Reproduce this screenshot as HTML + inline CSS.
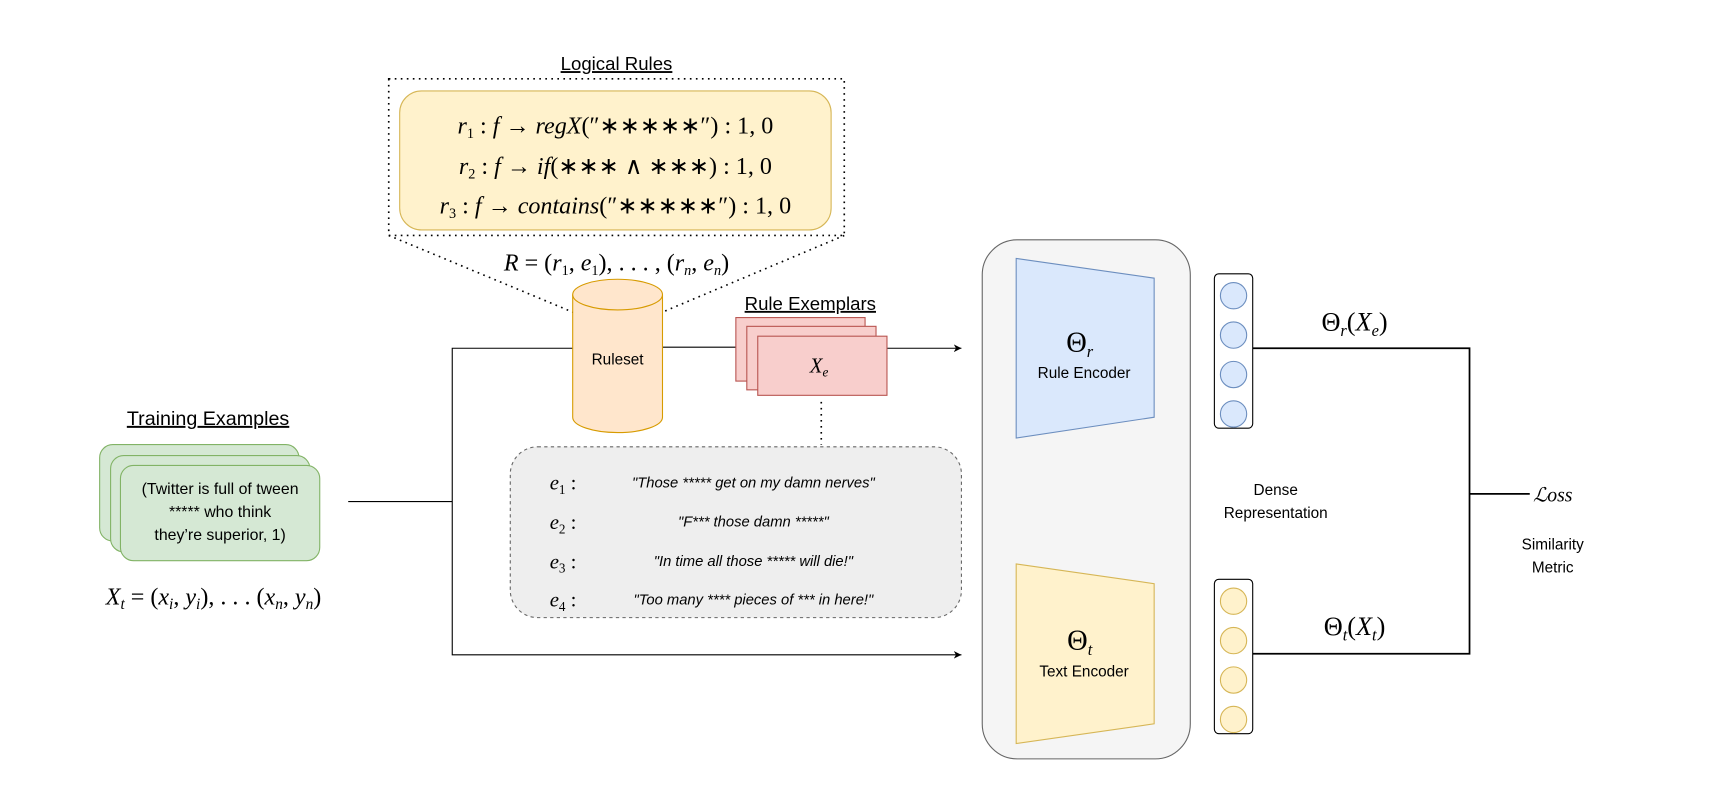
<!DOCTYPE html>
<html><head><meta charset="utf-8"><style>html,body{margin:0;padding:0;background:#fff}svg{display:block}
.s{font-family:"Liberation Sans",sans-serif}.m{font-family:"Liberation Serif",serif}</style></head>
<body>
<svg width="1717" height="812" viewBox="0 0 1568 741.5" xmlns="http://www.w3.org/2000/svg">
<defs><marker id="a" markerWidth="8" markerHeight="8" refX="7" refY="4" orient="auto"><path d="M0,0.5 L7,4 L0,7.5 L2,4z" fill="#000"/></marker></defs>
<text x="563" y="64" class="s" font-size="17" text-anchor="middle" text-decoration="underline">Logical Rules</text>
<rect x="355" y="72" width="416" height="143" fill="none" stroke="#000" stroke-width="1.5" stroke-dasharray="1.5,4"/>
<rect x="365" y="83" width="394" height="127" rx="20" fill="#fff2cc" stroke="#d6b656"/>
<g class="m" font-size="22" text-anchor="middle" font-style="italic">
<text x="562" y="122">r<tspan font-size="13" font-style="normal" dy="4">1</tspan><tspan dy="-4" font-style="normal"> : </tspan>f<tspan font-style="normal"> → </tspan>regX<tspan font-style="normal">(″∗∗∗∗∗″) : 1, 0</tspan></text>
<text x="562" y="159">r<tspan font-size="13" font-style="normal" dy="4">2</tspan><tspan dy="-4" font-style="normal"> : </tspan>f<tspan font-style="normal"> → </tspan>if<tspan font-style="normal">(∗∗∗ ∧ ∗∗∗) : 1, 0</tspan></text>
<text x="562" y="195">r<tspan font-size="13" font-style="normal" dy="4">3</tspan><tspan dy="-4" font-style="normal"> : </tspan>f<tspan font-style="normal"> → </tspan>contains<tspan font-style="normal">(″∗∗∗∗∗″) : 1, 0</tspan></text>
<text x="563" y="247">R<tspan font-style="normal"> = (</tspan>r<tspan font-size="13" font-style="normal" dy="4">1</tspan><tspan dy="-4" font-style="normal">, </tspan>e<tspan font-size="13" font-style="normal" dy="4">1</tspan><tspan dy="-4" font-style="normal">), . . . , (</tspan>r<tspan font-size="13" dy="4">n</tspan><tspan dy="-4" font-style="normal">, </tspan>e<tspan font-size="13" dy="4">n</tspan><tspan dy="-4" font-style="normal">)</tspan></text>
</g>
<line x1="355" y1="215" x2="523" y2="285" stroke="#000" stroke-width="1.5" stroke-dasharray="1.5,4"/>
<line x1="771" y1="215" x2="605" y2="285" stroke="#000" stroke-width="1.5" stroke-dasharray="1.5,4"/>
<g stroke="#000" fill="none" stroke-width="1">
<polyline points="318,458 413,458"/>
<polyline points="523,318 413,318 413,598 878,598" marker-end="url(#a)"/>
<line x1="605" y1="317" x2="672" y2="317"/>
<line x1="810" y1="318" x2="878" y2="318" marker-end="url(#a)"/>
<line x1="750" y1="367" x2="750" y2="406" stroke-width="1.5" stroke-dasharray="1.5,4"/>
</g>
<path d="M523,269 L523,381 A41,14 0 0 0 605,381 L605,269" fill="#ffe6cc" stroke="#d79b00"/>
<ellipse cx="564" cy="269" rx="41" ry="14" fill="#ffe6cc" stroke="#d79b00"/>
<text x="564" y="333" class="s" font-size="14" text-anchor="middle">Ruleset</text>
<text x="740" y="283" class="s" font-size="17" text-anchor="middle" text-decoration="underline">Rule Exemplars</text>
<rect x="672" y="290" width="118" height="58" fill="#f8cecc" stroke="#b85450"/>
<rect x="682" y="298" width="118" height="58" fill="#f8cecc" stroke="#b85450"/>
<rect x="692" y="307" width="118" height="54" fill="#f8cecc" stroke="#b85450"/>
<text x="748" y="340" class="m" font-size="19" font-style="italic" text-anchor="middle">X<tspan font-size="12" dy="4">e</tspan></text>
<rect x="466" y="408" width="412" height="156" rx="25" fill="#eeeeee" stroke="#666" stroke-dasharray="3,3"/>
<g class="m" font-size="19" font-style="italic">
<text x="502" y="447">e<tspan font-size="12" font-style="normal" dy="4">1</tspan><tspan dy="-4" font-style="normal"> :</tspan></text>
<text x="502" y="483">e<tspan font-size="12" font-style="normal" dy="4">2</tspan><tspan dy="-4" font-style="normal"> :</tspan></text>
<text x="502" y="519">e<tspan font-size="12" font-style="normal" dy="4">3</tspan><tspan dy="-4" font-style="normal"> :</tspan></text>
<text x="502" y="554">e<tspan font-size="12" font-style="normal" dy="4">4</tspan><tspan dy="-4" font-style="normal"> :</tspan></text>
</g>
<g class="s" font-size="13.5" font-style="italic" text-anchor="middle">
<text x="688" y="445">"Those ***** get on my damn nerves"</text>
<text x="688" y="481">"F*** those damn *****"</text>
<text x="688" y="517">"In time all those ***** will die!"</text>
<text x="688" y="552">"Too many **** pieces of *** in here!"</text>
</g>
<text x="190" y="388" class="s" font-size="18" text-anchor="middle" text-decoration="underline">Training Examples</text>
<rect x="91" y="406" width="182" height="88" rx="12" fill="#d5e8d4" stroke="#82b366"/>
<rect x="101" y="416" width="182" height="88" rx="12" fill="#d5e8d4" stroke="#82b366"/>
<rect x="110" y="425" width="182" height="87" rx="12" fill="#d5e8d4" stroke="#82b366"/>
<g class="s" font-size="14.5" text-anchor="middle">
<text x="201" y="451">(Twitter is full of tween</text>
<text x="201" y="472">***** who think</text>
<text x="201" y="493">they’re superior, 1)</text>
</g>
<text x="195" y="552" class="m" font-size="22" font-style="italic" text-anchor="middle">X<tspan font-size="14" dy="4">t</tspan><tspan dy="-4" font-style="normal"> = (</tspan>x<tspan font-size="14" dy="4">i</tspan><tspan dy="-4" font-style="normal">, </tspan>y<tspan font-size="14" dy="4">i</tspan><tspan dy="-4" font-style="normal">), . . . (</tspan>x<tspan font-size="14" dy="4">n</tspan><tspan dy="-4" font-style="normal">, </tspan>y<tspan font-size="14" dy="4">n</tspan><tspan dy="-4" font-style="normal">)</tspan></text>
<rect x="897" y="219" width="190" height="474" rx="32" fill="#f5f5f5" stroke="#666"/>
<polygon points="928,236 1054,254 1054,381 928,400" fill="#dae8fc" stroke="#6c8ebf"/>
<polygon points="928,515 1054,533 1054,661 928,679" fill="#fff2cc" stroke="#d6b656"/>
<text x="986" y="321" class="m" font-size="26" text-anchor="middle">Θ<tspan font-size="15" font-style="italic" dy="5">r</tspan></text>
<text x="990" y="345" class="s" font-size="14" text-anchor="middle">Rule Encoder</text>
<text x="986" y="593" class="m" font-size="26" text-anchor="middle">Θ<tspan font-size="15" font-style="italic" dy="5">t</tspan></text>
<text x="990" y="618" class="s" font-size="14" text-anchor="middle">Text Encoder</text>
<rect x="1109" y="250" width="35" height="141" rx="4" fill="#fff" stroke="#000"/>
<g fill="#dae8fc" stroke="#6c8ebf"><circle cx="1126.5" cy="270" r="12"/><circle cx="1126.5" cy="306" r="12"/><circle cx="1126.5" cy="342" r="12"/><circle cx="1126.5" cy="378" r="12"/></g>
<rect x="1109" y="529" width="35" height="141" rx="4" fill="#fff" stroke="#000"/>
<g fill="#fff2cc" stroke="#d6b656"><circle cx="1126.5" cy="549" r="12"/><circle cx="1126.5" cy="585" r="12"/><circle cx="1126.5" cy="621" r="12"/><circle cx="1126.5" cy="657" r="12"/></g>
<g stroke="#000" stroke-width="1.6" fill="none">
<polyline points="1144,318 1342,318 1342,597 1144,597"/>
<line x1="1342" y1="451" x2="1397" y2="451"/>
</g>
<text x="1237" y="302" class="m" font-size="24" text-anchor="middle">Θ<tspan font-size="15" font-style="italic" dy="5">r</tspan><tspan dy="-5">(</tspan><tspan font-style="italic">X</tspan><tspan font-size="15" font-style="italic" dy="5">e</tspan><tspan dy="-5">)</tspan></text>
<text x="1237" y="580" class="m" font-size="24" text-anchor="middle">Θ<tspan font-size="15" font-style="italic" dy="5">t</tspan><tspan dy="-5">(</tspan><tspan font-style="italic">X</tspan><tspan font-size="15" font-style="italic" dy="5">t</tspan><tspan dy="-5">)</tspan></text>
<text x="1400" y="458" class="m" font-size="18" font-style="italic">ℒoss</text>
<g class="s" font-size="14" text-anchor="middle">
<text x="1165" y="452">Dense</text><text x="1165" y="473">Representation</text>
<text x="1418" y="502">Similarity</text><text x="1418" y="523">Metric</text>
</g>
</svg>
</body></html>
